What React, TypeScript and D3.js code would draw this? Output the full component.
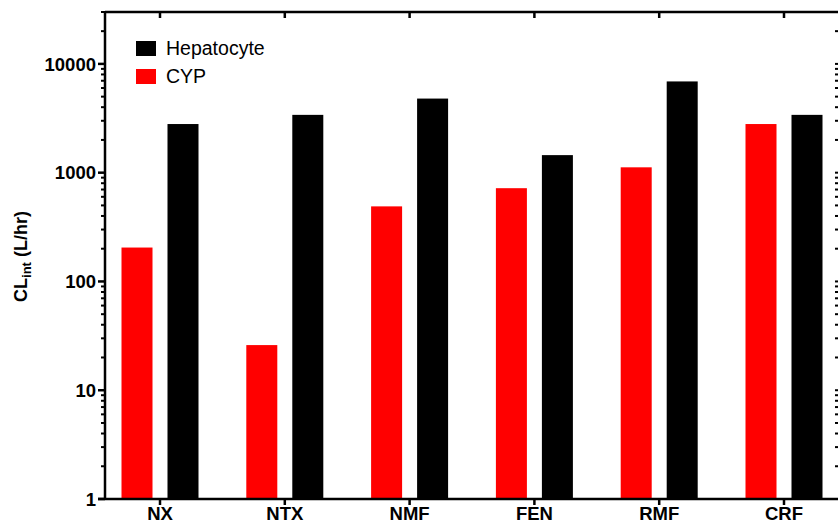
import React from "react";
import * as d3 from "d3";

const categories = ["NX", "NTX", "NMF", "FEN", "RMF", "CRF"];
const series = ["CYP", "Hepatocyte"];
const cypValues = [205, 26, 490, 720, 1120, 2800];
const hepValues = [2800, 3400, 4800, 1450, 6900, 3400];
const seriesColors = ["#ff0000", "#000000"];
const majorTicks = [1, 10, 100, 1000, 10000];
const yDomain = [1, 30000];

const W = 838;
const H = 527;
const margin = { left: 105, top: 12, bottom: 28 };
const font = "'Liberation Sans', Arial, sans-serif";

export default function App() {
  const y = d3.scaleLog().domain(yDomain).range([H - margin.bottom, margin.top]);
  const x = d3.scalePoint<string>().domain(categories).range([160, 784]);
  const xInner = d3
    .scaleBand<string>()
    .domain(series)
    .range([-38.5, 38.5])
    .paddingInner(0.326)
    .paddingOuter(0);

  const y0 = y(1);
  const values = [cypValues, hepValues];

  // minor ticks: 2..9 within each decade, up to the top of the domain
  const minor: number[] = [];
  for (const d of majorTicks) {
    for (let k = 2; k <= 9; k++) {
      const v = d * k;
      if (v <= yDomain[1]) minor.push(v);
    }
  }

  const lw = 2.5;

  return (
    <svg
      width={W}
      height={H}
      style={{ position: "absolute", left: 0, top: 0, background: "white" }}
    >
      {/* bars */}
      {categories.map((c, i) => (
        <g key={c} transform={`translate(${x(c)},0)`}>
          {series.map((s, j) => {
            const v = values[j][i];
            return (
              <rect
                key={s}
                x={xInner(s)}
                y={y(v)}
                width={xInner.bandwidth()}
                height={y0 - y(v)}
                fill={seriesColors[j]}
              />
            );
          })}
        </g>
      ))}

      {/* frame lines */}
      <line x1={margin.left} x2={W} y1={margin.top} y2={margin.top} stroke="#000" strokeWidth={lw} />
      <line x1={margin.left - 7} x2={W} y1={y0} y2={y0} stroke="#000" strokeWidth={lw} />
      <line x1={margin.left} x2={margin.left} y1={margin.top - 1} y2={y0 + 1} stroke="#000" strokeWidth={lw} />

      {/* category ticks (bottom and top) */}
      {categories.map((c) => (
        <g key={c}>
          <line x1={x(c)} x2={x(c)} y1={y0} y2={y0 + 6} stroke="#000" strokeWidth={lw} />
          <line x1={x(c)} x2={x(c)} y1={margin.top} y2={margin.top + 6} stroke="#000" strokeWidth={lw} />
          <text
            x={x(c)}
            y={H - 7}
            textAnchor="middle"
            fontFamily={font}
            fontWeight="bold"
            fontSize={18.5}
          >
            {c}
          </text>
        </g>
      ))}

      {/* left axis ticks */}
      {majorTicks.map((t) => (
        <g key={t}>
          <line x1={margin.left - 7} x2={margin.left} y1={y(t)} y2={y(t)} stroke="#000" strokeWidth={lw} />
          <text
            x={margin.left - 9}
            y={y(t)}
            dy="0.36em"
            textAnchor="end"
            fontFamily={font}
            fontWeight="bold"
            fontSize={18.5}
          >
            {t}
          </text>
        </g>
      ))}
      {minor.map((t) => (
        <line key={t} x1={margin.left - 4} x2={margin.left} y1={y(t)} y2={y(t)} stroke="#000" strokeWidth={2} />
      ))}

      {/* right edge axis ticks (cut off) */}
      {[...majorTicks, ...minor].map((t) => (
        <line key={"r" + t} x1={W - 3} x2={W} y1={y(t)} y2={y(t)} stroke="#000" strokeWidth={2} />
      ))}

      {/* y axis title */}
      <text
        transform={`translate(27,${(margin.top + y0) / 2 + 1}) rotate(-90)`}
        textAnchor="middle"
        fontFamily={font}
        fontWeight="bold"
        fontSize={18}
      >
        CL
        <tspan fontSize={13} dy={4}>int</tspan>
        <tspan dy={-4}> (L/hr)</tspan>
      </text>

      {/* legend */}
      {[...series].reverse().map((s, k) => {
        const j = series.indexOf(s);
        const ly = 41 + k * 28;
        return (
          <g key={s}>
            <rect x={136} y={ly} width={20} height={15} fill={seriesColors[j]} />
            <text x={166} y={ly + 14} fontFamily={font} fontSize={19.5}>
              {s}
            </text>
          </g>
        );
      })}
    </svg>
  );
}
